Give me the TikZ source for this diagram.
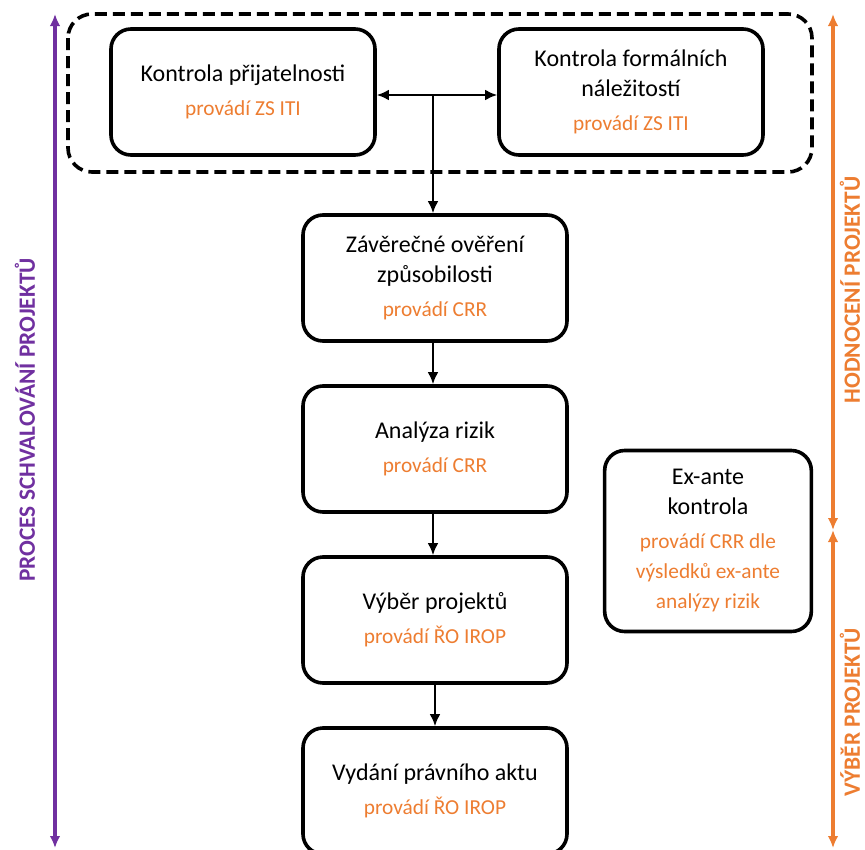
\documentclass[tikz,border=0pt]{standalone}
\usepackage{fontspec}
\setmainfont{Carlito}[BoldFont={Carlito Bold}]
\usepackage{tikz}
\usetikzlibrary{positioning}
\usetikzlibrary{calc}
\usetikzlibrary{arrows.meta}

\definecolor{purp}{HTML}{7030A0}
\definecolor{ora}{HTML}{ED7D31}
\newcommand{\who}[1]{{\color{ora}\fontsize{16}{20}\selectfont #1}}

\begin{document}
\begin{tikzpicture}[x=0.75pt, y=-0.75pt,
			stepbox/.style={draw=black, line width=2.7pt, rounded corners=15pt, align=center,
				minimum width=198pt, minimum height=94.5pt, font=\fontsize{18}{22.5}\selectfont},
			groupbox/.style={draw=black, line width=2.7pt, dash pattern=on 9pt off 4.5pt, rounded corners=18pt},
			flow/.style={line width=1.5pt, >={Latex[length=9pt,width=8pt]}},
			side/.style={line width=2.6pt, >={Latex[length=9pt,width=8pt]}},
			sidelabel/.style={rotate=90, inner sep=1pt, font=\fontsize{17.5}{21}\selectfont\bfseries}
			]
			\useasboundingbox (0,0) rectangle (865,850);
			
			\draw[groupbox] (68,14) rectangle (812,172);
			
			\node[stepbox] at (243, 92) (kp) {Kontrola přijatelnosti\\[3pt]\who{provádí ZS ITI}};
			\node[stepbox] at (631, 92) (kf) {Kontrola formálních\\náležitostí\\[3pt]\who{provádí ZS ITI}};
			\node[stepbox] at (435, 278) (zo) {Závěrečné ověření\\způsobilosti\\[3pt]\who{provádí CRR}};
			\node[stepbox] at (435, 449) (ar) {Analýza rizik\\[3pt]\who{provádí CRR}};
			\node[stepbox] at (435, 620) (vp) {Výběr projektů\\[3pt]\who{provádí ŘO IROP}};
			\node[stepbox] at (435, 791) (pa) {Vydání právního aktu\\[3pt]\who{provádí ŘO IROP}};
			\node[stepbox, minimum width=155pt, minimum height=135.75pt] at (708, 541) (ea)
				{Ex-ante\\kontrola\\[3pt]\who{provádí CRR dle}\\\who{výsledků ex-ante}\\\who{analýzy rizik}};
			
			\coordinate (split) at (433, 95);
			\draw[flow, <->] (kp.east |- split) -- (kf.west |- split);
			\draw[flow, ->] (split) -- (split |- zo.north);
			\draw[flow, ->] (zo.south -| split) -- (ar.north -| split);
			\draw[flow, ->] (ar.south -| split) -- (vp.north -| split);
			\draw[flow, ->] (vp) -- (pa);
			
			\coordinate (ptop) at (55, 14);
			\coordinate (pbot) at (55, 848);
			\coordinate (otop) at (833, 14);
			\coordinate (omid) at (833, 530);
			\coordinate (obot) at (833, 848);
			
			\draw[side, purp, <->] (ptop) -- (pbot);
			\draw[side, ora, <->] (otop) -- (omid);
			\draw[side, ora, <->] (omid) -- (obot);
			
			\node[sidelabel, text=purp] at (25, 420) (proc) {PROCES SCHVALOVÁNÍ PROJEKTŮ};
			\node[sidelabel, text=ora] at (850, 290) (hodn) {HODNOCENÍ PROJEKTŮ};
			\node[sidelabel, text=ora] at (850, 712) (vyb) {VÝBĚR PROJEKTŮ};
		\end{tikzpicture}
\end{document}
